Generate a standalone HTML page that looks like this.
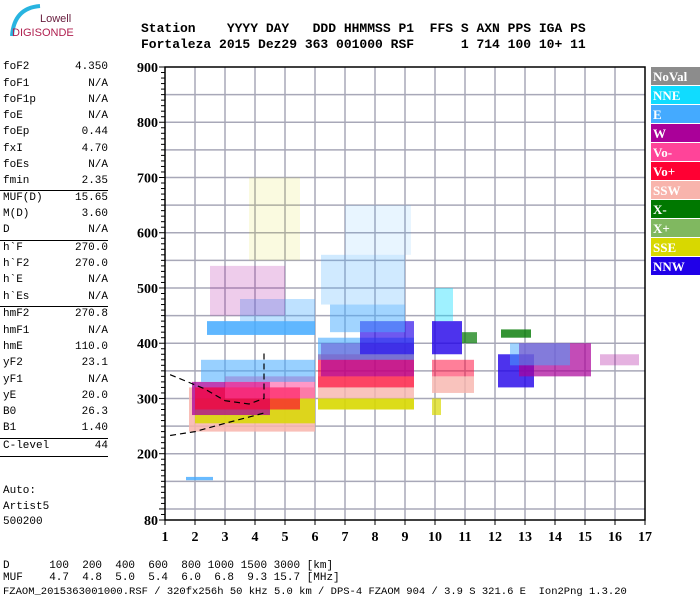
<!DOCTYPE html>
<html><head><meta charset="utf-8">
<style>
body{margin:0;background:#fff;width:700px;height:600px;overflow:hidden;position:relative;font-family:"Liberation Mono",monospace;}
.t{position:absolute;font-size:11px;color:#000;white-space:pre;line-height:12px;}
.hd{position:absolute;font-family:"Liberation Mono",monospace;font-weight:bold;font-size:13px;white-space:pre;}
</style></head><body>
<svg id="logo" width="90" height="45" style="position:absolute;left:0;top:0">
<path d="M40 6 Q14 8 12 36" stroke="#28b4e0" stroke-width="4" fill="none"/>
<text x="40" y="22" font-family="Liberation Sans,sans-serif" font-size="11" fill="#6a2040">Lowell</text>
<text x="12" y="36" font-family="Liberation Sans,sans-serif" font-size="11" fill="#b02050">DIGISONDE</text>
</svg>
<div class="hd" style="left:141px;top:21px">Station    YYYY DAY   DDD HHMMSS P1  FFS S AXN PPS IGA PS</div>
<div class="hd" style="left:141px;top:37px">Fortaleza 2015 Dez29 363 001000 RSF      1 714 100 10+ 11</div>
<div id="panel"></div>
<svg id="chart" width="700" height="600" style="position:absolute;left:0;top:0"></svg>
<div class="t" style="left:3px;top:560px">D      100  200  400  600  800 1000 1500 3000 [km]</div>
<div class="t" style="left:3px;top:572px">MUF    4.7  4.8  5.0  5.4  6.0  6.8  9.3 15.7 [MHz]</div>
<div class="t" style="left:3px;top:586px;font-size:10.5px">FZAOM_2015363001000.RSF / 320fx256h 50 kHz 5.0 km / DPS-4 FZAOM 904 / 3.9 S 321.6 E  Ion2Png 1.3.20</div>
<script>
const params=[["foF2","4.350",67],["foF1","N/A",84],["foF1p","N/A",100],["foE","N/A",116],["foEp","0.44",132],["fxI","4.70",149],["foEs","N/A",165],["fmin","2.35",181],
["MUF(D)","15.65",198],["M(D)","3.60",214],["D","N/A",230],["h`F","270.0",248],["h`F2","270.0",264],["h`E","N/A",280],["h`Es","N/A",297],
["hmF2","270.8",314],["hmF1","N/A",331],["hmE","110.0",347],["yF2","23.1",363],["yF1","N/A",380],["yE","20.0",396],["B0","26.3",412],["B1","1.40",428],["C-level","44",446]];
const extra=[["Auto:",491],["Artist5",507],["500200",522]];
const sepY=[190,240,306,438,456];
const panel=document.getElementById('panel');
params.forEach(p=>{
 const a=document.createElement('div');a.className='t';a.style.left='3px';a.style.top=(p[2]-6)+'px';a.textContent=p[0];
 
 
 panel.appendChild(a);
 const b=document.createElement('div');b.className='t';b.style.right=(700-108)+'px';b.style.top=(p[2]-6)+'px';b.textContent=p[1];
 
 
 panel.appendChild(b);
});
extra.forEach(p=>{const a=document.createElement('div');a.className='t';a.style.left='3px';a.style.top=(p[1]-6)+'px';a.textContent=p[0];
 
 
 panel.appendChild(a);});
sepY.forEach(y=>{const d=document.createElement('div');d.style.cssText='position:absolute;left:0;width:108px;height:1px;background:#000;top:'+y+'px';
 
 
 panel.appendChild(d);});

// chart data
const freqTicks=[1,2,3,4,5,6,7,8,9,10,11,12,13,14,15,16,17];
const heightTicks=[80,200,300,400,500,600,700,800,900];
const modeNames=["NoVal","NNE","E","W","Vo-","Vo+","SSW","X-","X+","SSE","NNW"];
const modeColors={NoVal:"#8c8c8c",NNE:"#10dcff",E:"#44aaff",W:"#aa0099",'Vo-':"#ff4499",'Vo+':"#ff0033",SSW:"#f8b4ac",'X-':"#007800",'X+':"#80b860",SSE:"#d8d800",NNW:"#2000e8"};
// echo patches: fLow, fHigh, hLow, hHigh, mode, density
const echoF1=[1.8,2.0,1.9,2.0,3.0,2.2,2.4,3.5,2.5,3.8,1.7, 6.1,6.1,6.1,6.2,6.1,7.5,6.5,6.2,7.0, 9.9,9.9,9.9,9.9,10.0,10.9, 12.1,12.8,12.5,12.2,15.5];
const echoF2=[6.0,6.0,4.5,5.5,6.0,6.0,6.0,6.0,5.0,5.5,2.6, 9.3,9.3,9.3,9.3,9.3,9.3,9.0,9.0,9.2, 10.2,11.3,11.3,10.9,10.6,11.4, 13.3,15.2,14.5,13.2,16.8];
const echoH1=[240,255,270,280,300,330,415,440,450,550,152, 280,300,320,340,370,380,420,470,560, 270,310,340,380,440,400, 320,340,360,410,360];
const echoH2=[320,300,330,320,340,370,440,480,540,700,158, 300,340,380,400,410,440,470,560,650, 300,340,370,440,500,420, 380,400,400,425,380];
const echoMode=["SSW","SSE","W","Vo+","Vo-","E","E","E","W","SSE","E", "SSE","SSW","Vo+","W","E","NNW","E","E","E", "SSE","SSW","Vo+","NNW","NNE","X-", "NNW","W","E","X-","W"];
const echoDensity=[0.85,0.85,0.75,0.65,0.55,0.55,0.85,0.35,0.2,0.12,0.8, 0.9,0.8,0.65,0.65,0.6,0.65,0.5,0.25,0.12, 0.7,0.8,0.5,0.8,0.4,0.7, 0.8,0.7,0.5,0.8,0.3];
const traceUpperF=[1.17,2.3,3.0,3.8,4.3,4.3];
const traceUpperH=[343,318,296,290,300,384];
const traceLowerF=[1.17,2.0,3.0,4.33];
const traceLowerH=[233,240,255,274];

const svg=document.getElementById('chart');const NS='http://www.w3.org/2000/svg';
const X0=165,X1=645,Y0=67,Y1=520;
const xs=f=>X0+(f-1)*(X1-X0)/16;
const ys=h=>Y1-(h-80)*(Y1-Y0)/820;
function el(tag,attrs,parent){const e=document.createElementNS(NS,tag);for(const k in attrs)e.setAttribute(k,attrs[k]);(parent||svg).appendChild(e);return e;}
for(let h=100;h<=850;h+=50){const l=el('line',{x1:X0,x2:X1,y1:ys(h),y2:ys(h),stroke:'#a8a8b8','stroke-width':1.5});
 
 }
freqTicks.slice(1,-1).forEach(f=>{const l=el('line',{x1:xs(f),x2:xs(f),y1:Y0,y2:Y1,stroke:'#a8a8b8','stroke-width':1.5});
 
 });
echoF1.forEach((f,i)=>{
 const r=el('rect',{x:xs(f),y:ys(echoH2[i]),width:xs(echoF2[i])-xs(f),height:ys(echoH1[i])-ys(echoH2[i]),fill:modeColors[echoMode[i]],opacity:echoDensity[i]});
 
 
});
function poly(F,H,dash){return el('polyline',{points:F.map((f,i)=>xs(f)+','+ys(H[i])).join(' '),fill:'none',stroke:'#000','stroke-width':1.2,'stroke-dasharray':dash});}
const t1=poly(traceUpperF,traceUpperH,'6 4');


const t2=poly(traceLowerF,traceLowerH,'6 4');


const fr=el('rect',{x:X0,y:Y0,width:X1-X0,height:Y1-Y0,fill:'none',stroke:'#000','stroke-width':1.5});


for(let h=80;h<=900;h+=10){const major=h%100===0||h===80;const l=el('line',{x1:X0-(major?6:4),x2:X0,y1:ys(h),y2:ys(h),stroke:'#000'});
 
 }
heightTicks.forEach(h=>{const t=el('text',{x:X0-7,y:ys(h)+5,'text-anchor':'end','font-family':'Liberation Serif,serif','font-weight':'bold','font-size':14});t.textContent=h;
 
 });
freqTicks.forEach(f=>{const l=el('line',{x1:xs(f),x2:xs(f),y1:Y1,y2:Y1+5,stroke:'#000'});
 
 
 const t=el('text',{x:xs(f),y:541,'text-anchor':'middle','font-family':'Liberation Serif,serif','font-weight':'bold','font-size':14});t.textContent=f;
 
 });
modeNames.forEach((m,i)=>{const y=67+i*19;
 const r=el('rect',{x:651,y:y,width:49,height:18,fill:modeColors[m]});
 
 
 const t=el('text',{x:653,y:y+14,'font-family':'Liberation Serif,serif','font-weight':'bold','font-size':13,fill:'#fff'});t.textContent=m;
 
 });
</script>
</body></html>
